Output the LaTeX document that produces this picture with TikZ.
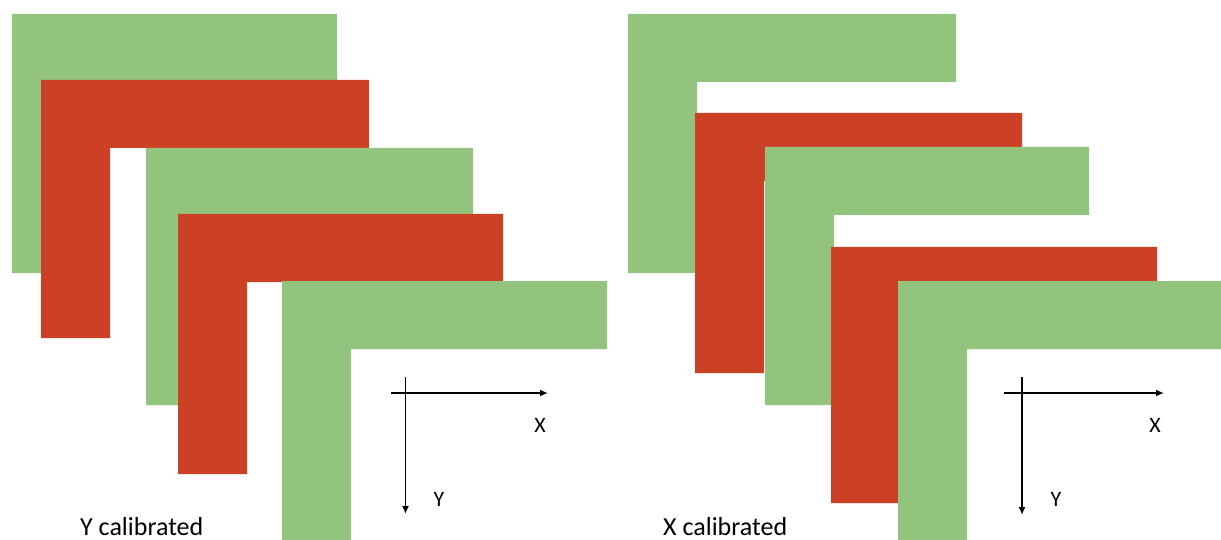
\documentclass[tikz,border=0pt]{standalone}
\usepackage{fontspec}
\setmainfont{Carlito}
\usetikzlibrary{arrows.meta}
\definecolor{lgreen}{HTML}{93C47D}
\definecolor{lred}{HTML}{CC4125}
\newcommand{\Lsh}[5]{% x1 y1 x2 y2 colour
  \fill[#5] (#1,#2) -- (#3,#2) -- (#3,#2+68) -- (#1+69,#2+68) -- (#1+69,#4) -- (#1,#4) -- cycle;}
\tikzset{
  axis/.style={line width=1.8pt, -{Latex[length=8pt,width=7pt]}},
  axlabel/.style={font=\fontsize{22}{24}\selectfont, inner sep=0pt},
  caption/.style={font=\fontsize{26}{28}\selectfont, inner sep=0pt, anchor=base west}
}
\begin{document}
\begin{tikzpicture}[x=1pt,y=-1pt]
\useasboundingbox (0,0) rectangle (1221,540);
\fill[white] (0,0) rectangle (1221,540);
% left panel: Y calibrated
\Lsh{12}{14}{337}{273}{lgreen}
\Lsh{41}{80}{369}{338}{lred}
\Lsh{146}{148}{473}{405}{lgreen}
\Lsh{178}{214}{503}{474}{lred}
\Lsh{282}{281}{607}{545}{lgreen}
% right panel: X calibrated
\Lsh{628}{14}{956}{273}{lgreen}
\Lsh{695}{113}{1022}{373}{lred}
\Lsh{765}{147}{1089}{405}{lgreen}
\Lsh{831}{247}{1157}{503}{lred}
\Lsh{898}{281}{1230}{545}{lgreen}
% axes left
\coordinate (lxs) at (391,393);
\coordinate (lxe) at (548,393);
\coordinate (lys) at (405.5,377);
\coordinate (lye) at (405.5,514);
\draw[axis] (lxs) -- (lxe);
\draw[axis] (lys) -- (lye);
\node[axlabel] (lX) at (540,425) {X};
\node[axlabel] (lY) at (439,499) {Y};
% axes right
\coordinate (rxs) at (1004,393);
\coordinate (rxe) at (1164,393);
\coordinate (rys) at (1022,377);
\coordinate (rye) at (1022,515);
\draw[axis] (rxs) -- (rxe);
\draw[axis] (rys) -- (rye);
\node[axlabel] (rX) at (1155,425) {X};
\node[axlabel] (rY) at (1056,499) {Y};
% captions
\node[caption] (lcap) at (80,535) {Y calibrated};
\node[caption] (rcap) at (663,535) {X calibrated};
\end{tikzpicture}
\end{document}
